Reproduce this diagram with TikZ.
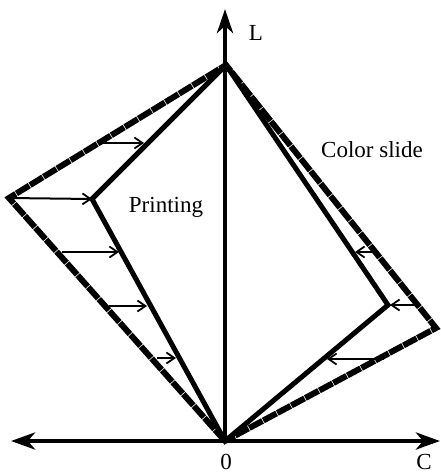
\documentclass[tikz,border=0pt]{standalone}
\usepackage{fontspec}
\setmainfont{Liberation Serif}
\usetikzlibrary{arrows.meta}
\begin{document}
\begin{tikzpicture}[x=1pt,y=-1pt,
  axis/.style={line width=4.5pt},
  solidedge/.style={line width=5pt,line join=miter},
  dashedge/.style={line width=6pt,dash pattern=on 15pt off 0.9pt,line join=miter},
  shiftarrow/.style={line width=2pt,-{Straight Barb[length=8pt,width=11pt,line width=1.8pt]}},
  lab/.style={font=\fontsize{23}{25}\selectfont,inner sep=0pt,anchor=base}]
\useasboundingbox (0,0) rectangle (440,474);
\coordinate (O) at (225,441);
\coordinate (T) at (226,65);
\coordinate (LP) at (9,198);
\coordinate (P) at (92,199);
\coordinate (RC) at (436,328);
\coordinate (C) at (388,305);
\coordinate (Ltop) at (225,9);
\coordinate (Xl) at (11,441);
\coordinate (Xr) at (440,441);
% outer dashed
\draw[dashedge] (O) -- (LP) -- (T) -- (RC) -- cycle;
% solid inner
\draw[solidedge] (O) -- (P) -- (T) -- (C) -- cycle;
% axes
\draw[axis,{Stealth[length=24pt,width=17pt,inset=7pt]}-{Stealth[length=24pt,width=17pt,inset=7pt]}] (Xl) -- (Xr);
\draw[axis,-{Stealth[length=24pt,width=16pt,inset=7pt]}] (O) -- (Ltop);
% arrows left
\coordinate (a1s) at (102,143); \coordinate (a1e) at (144,143);
\coordinate (a3s) at (62,252); \coordinate (a3e) at (119,252);
\coordinate (a4s) at (109,306); \coordinate (a4e) at (147,306);
\coordinate (a5s) at (157,358); \coordinate (a5e) at (176,358);
\draw[shiftarrow] (a1s) -- (a1e);
\draw[shiftarrow] (LP) -- (P);
\draw[shiftarrow] (a3s) -- (a3e);
\draw[shiftarrow] (a4s) -- (a4e);
\draw[shiftarrow] (a5s) -- (a5e);
% arrows right
\coordinate (b1s) at (379,252); \coordinate (b1e) at (355,252);
\coordinate (b2s) at (416,305); \coordinate (b2e) at (390,305);
\coordinate (b3s) at (384,359); \coordinate (b3e) at (327,359);
\draw[shiftarrow] (b1s) -- (b1e);
\draw[shiftarrow] (b2s) -- (b2e);
\draw[shiftarrow] (b3s) -- (b3e);
% labels
\node[lab] (lL) at (256,40) {L};
\node[lab] (lP) at (166,212) {Printing};
\node[lab] (lC) at (372,157) {Color slide};
\node[lab] (l0) at (226,469) {0};
\node[lab] (lCc) at (424,469) {C};
\end{tikzpicture}
\end{document}
